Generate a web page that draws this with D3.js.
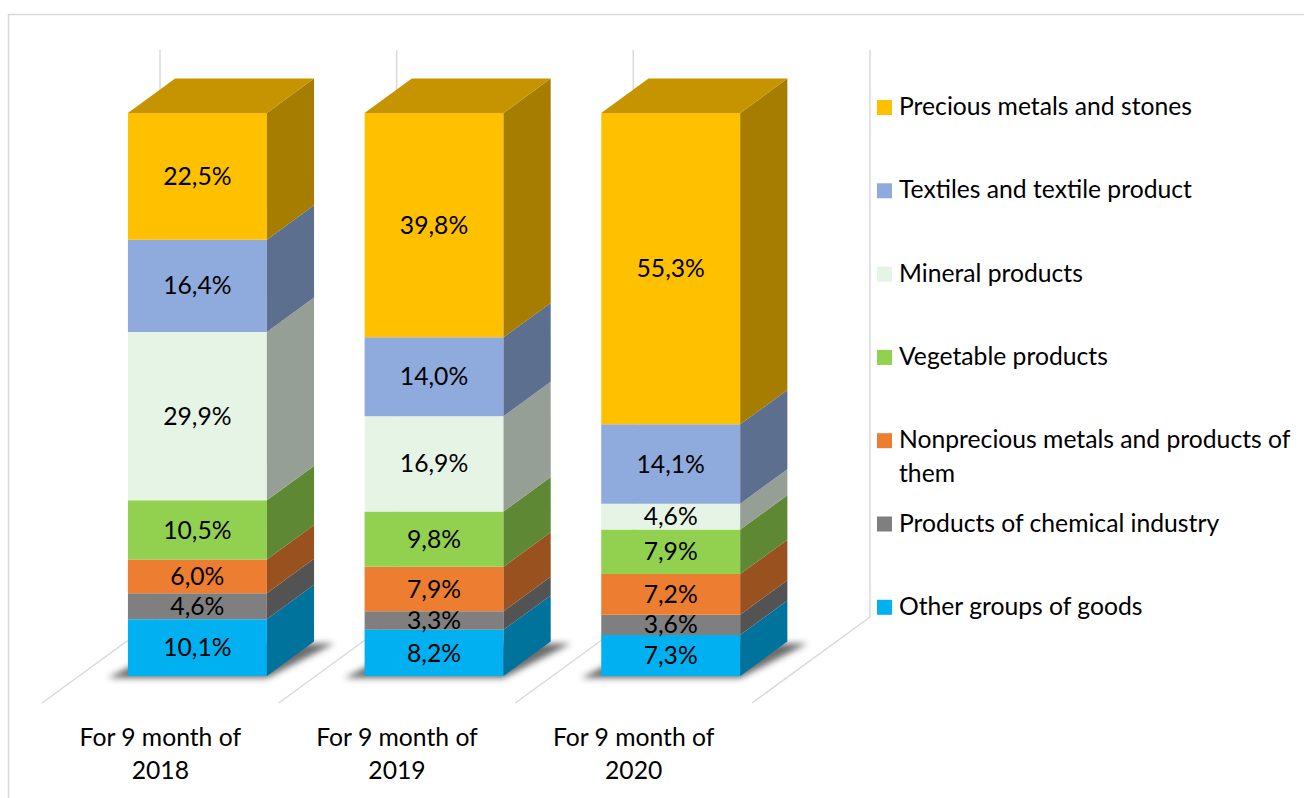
<!DOCTYPE html>
<html>
<head>
<meta charset="utf-8">
<script src="https://cdn.jsdelivr.net/npm/d3@7"></script>
<style>
  body { margin: 0; background: #fff; }
  text { font-family: Lato, "Open Sans", sans-serif; fill: #000; }
</style>
</head>
<body>
<div id="chart"></div>
<script>
// chart data (stack order: bottom to top)
var tickLabels = [["For 9 month of", "2018"], ["For 9 month of", "2019"], ["For 9 month of", "2020"]];
var seriesNames = ["Other groups of goods", "Products of chemical industry",
  "Nonprecious metals and products of them", "Vegetable products",
  "Mineral products", "Textiles and textile product", "Precious metals and stones"];
var seriesColors = ["#00B0F0", "#7F7F7F", "#ED7D31", "#92D050", "#E6F4E6", "#8FAADC", "#FFC000"];

var otherGoods  = [10.1, 8.2, 7.3];
var chemical    = [4.6, 3.3, 3.6];
var nonprecious = [6.0, 7.9, 7.2];
var vegetable   = [10.5, 9.8, 7.9];
var mineral     = [29.9, 16.9, 4.6];
var textiles    = [16.4, 14.0, 14.1];
var precious    = [22.5, 39.8, 55.3];

var seriesValues = [otherGoods, chemical, nonprecious, vegetable, mineral, textiles, precious];

// svg size
var svgWidth = 1304;
var svgHeight = 798;
var fontSize = 24.7;

// 3d depth of the floor and where the bars sit in it
var depthX = 118, depthY = 86;
var zFront = 0.314, zBack = 0.714;

var svg = d3.select("#chart")
  .append("svg")
  .attr("width", svgWidth)
  .attr("height", svgHeight);

// outer chart border
svg.append("rect")
  .attr("x", 8.5).attr("y", 14.5)
  .attr("width", svgWidth + 20).attr("height", svgHeight + 20)
  .attr("fill", "none")
  .attr("stroke", "#d9d9d9")
  .attr("stroke-width", 1.5);

var defs = svg.append("defs");
defs.append("filter").attr("id", "shadowBlur")
  .attr("x", "-20%").attr("y", "-50%").attr("width", "140%").attr("height", "200%")
  .append("feGaussianBlur").attr("stdDeviation", 3);

// build rows for d3.stack
var rows = tickLabels.map(function(t, i) {
  var row = { idx: i };
  seriesNames.forEach(function(name, s) { row[name] = seriesValues[s][i]; });
  return row;
});

var stacked = d3.stack()
  .keys(seriesNames)
  .offset(d3.stackOffsetExpand)(rows);

// scales, in the plane of the floor's front edge
var xScale = d3.scaleBand()
  .domain(d3.range(tickLabels.length))
  .range([42, 752])
  .paddingInner(0.413)
  .paddingOuter(0.2065);

var yScale = d3.scaleLinear()
  .domain([0, 1])
  .range([703, 140]);

function proj(x, v, z) {
  return [x + z * depthX, yScale(v) - z * depthY];
}
function poly(pts) {
  return pts.map(function(p) { return p[0] + "," + p[1]; }).join(" ");
}

// floor and back wall grid lines at category edges
var step = xScale.step();
var edges = d3.range(tickLabels.length + 1).map(function(i) { return xScale.range()[0] + i * step; });

var grid = svg.append("g")
  .attr("stroke", "#d9d9d9")
  .attr("stroke-width", 1.5)
  .attr("fill", "none");

edges.forEach(function(ex) {
  var a = proj(ex, 0, 0), b = proj(ex, 0, 1), c = proj(ex, 1, 1);
  grid.append("line").attr("x1", a[0]).attr("y1", a[1]).attr("x2", b[0]).attr("y2", b[1]);
  grid.append("line").attr("x1", b[0]).attr("y1", b[1]).attr("x2", c[0]).attr("y2", c[1] - 4);
});

// bar shadows on the floor
var bw = xScale.bandwidth();
svg.append("g").selectAll("polygon")
  .data(rows)
  .enter()
  .append("polygon")
  .attr("points", function(d) {
    var x0 = xScale(d.idx), x1 = x0 + bw;
    return poly([proj(x0 - 20, 0, zFront), proj(x1, 0, zFront),
                 proj(x1 + 20, 0, zBack), proj(x0, 0, zBack)]);
  })
  .attr("transform", "translate(0,2)")
  .attr("fill", "#3a3a3a")
  .attr("opacity", 0.75)
  .attr("filter", "url(#shadowBlur)");

// bars
var layers = svg.append("g").selectAll("g")
  .data(stacked)
  .enter()
  .append("g");

layers.each(function(layer, s) {
  var g = d3.select(this);
  var base = d3.rgb(seriesColors[s]);
  var side = base.darker(1.2);
  var top = base.darker(0.73);

  layer.forEach(function(seg) {
    var x0 = xScale(seg.data.idx), x1 = x0 + bw;
    var v0 = seg[0], v1 = seg[1];

    g.append("polygon")
      .attr("points", poly([proj(x0, v0, zFront), proj(x1, v0, zFront), proj(x1, v1, zFront), proj(x0, v1, zFront)]))
      .attr("fill", base);
    g.append("polygon")
      .attr("points", poly([proj(x1, v0, zFront), proj(x1, v0, zBack), proj(x1, v1, zBack), proj(x1, v1, zFront)]))
      .attr("fill", side);
    if (s === stacked.length - 1) {
      g.append("polygon")
        .attr("points", poly([proj(x0, v1, zFront), proj(x1, v1, zFront), proj(x1, v1, zBack), proj(x0, v1, zBack)]))
        .attr("fill", top);
    }
  });
});

// data labels on front faces
var fmt = function(v) { return d3.format(".1f")(v).replace(".", ",") + "%"; };

layers.each(function(layer, s) {
  var g = d3.select(this);
  layer.forEach(function(seg) {
    var xc = xScale(seg.data.idx) + bw / 2;
    var p = proj(xc, (seg[0] + seg[1]) / 2, zFront);
    g.append("text")
      .attr("x", p[0])
      .attr("y", p[1])
      .attr("dy", "0.35em")
      .attr("text-anchor", "middle")
      .attr("font-size", fontSize)
      .text(fmt(seriesValues[s][seg.data.idx]));
  });
});

// category labels
var catG = svg.append("g");
tickLabels.forEach(function(lines, i) {
  var t = catG.append("text")
    .attr("text-anchor", "middle")
    .attr("font-size", fontSize);
  lines.forEach(function(line, k) {
    t.append("tspan")
      .attr("x", xScale(i) + bw / 2)
      .attr("y", 746 + k * 33)
      .text(line);
  });
});

// legend, top series first
var legend = svg.append("g").attr("transform", "translate(877,0)");
var legendOrder = d3.range(seriesNames.length).reverse();

legendOrder.forEach(function(s, k) {
  var baseY = 115 + k * 83.3;
  var item = legend.append("g");
  item.append("rect")
    .attr("x", 0).attr("y", baseY - 15)
    .attr("width", 15).attr("height", 15)
    .attr("fill", seriesColors[s]);

  var t = item.append("text").attr("font-size", fontSize);
  // simple word wrap
  var words = seriesNames[s].split(" ");
  var line = [];
  var lineNo = 0;
  var tspan = t.append("tspan").attr("x", 22).attr("y", baseY);
  words.forEach(function(w) {
    line.push(w);
    tspan.text(line.join(" "));
    if (tspan.node().getComputedTextLength() > 405 && line.length > 1) {
      line.pop();
      tspan.text(line.join(" "));
      line = [w];
      lineNo++;
      tspan = t.append("tspan").attr("x", 22).attr("y", baseY + lineNo * 33.5).text(w);
    }
  });
});
</script>
</body>
</html>
